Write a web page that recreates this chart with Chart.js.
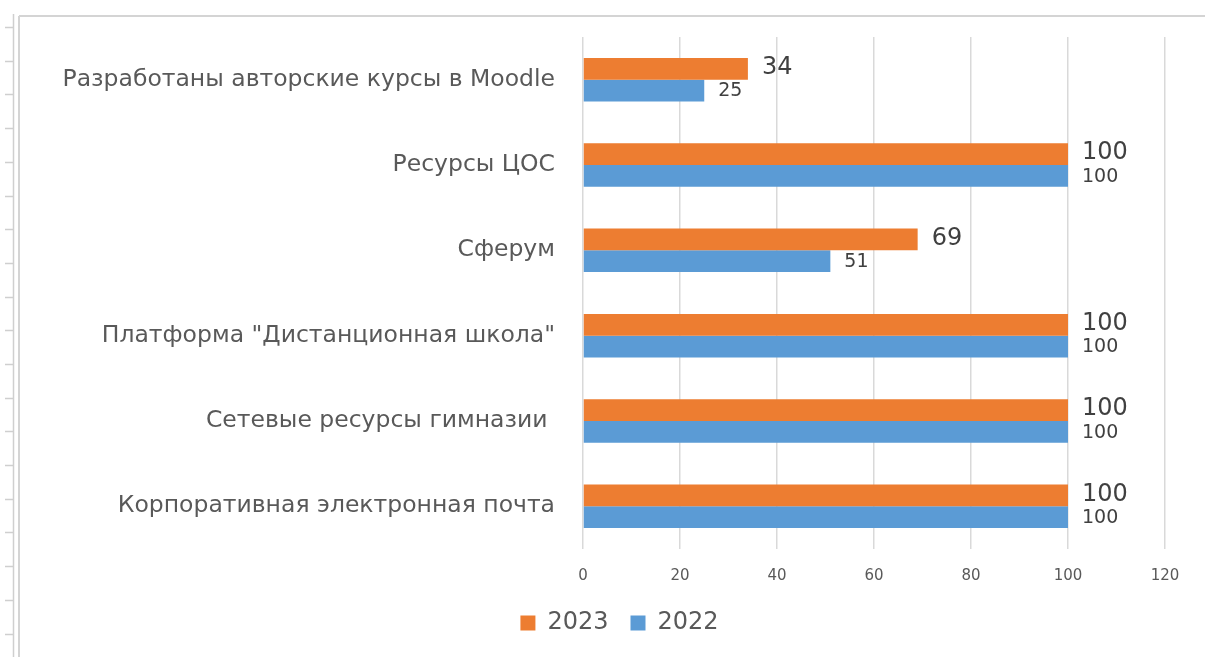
<!DOCTYPE html>
<html>
<head>
<meta charset="utf-8">
<script src="https://cdn.jsdelivr.net/npm/chart.js@4/dist/chart.umd.min.js"></script>
<style>
  html, body { margin: 0; padding: 0; background: #ffffff; }
  #wrap { width: 1205px; height: 657px; position: relative; }
</style>
</head>
<body>
<div id="wrap"><canvas id="c" width="1205" height="657"></canvas></div>
<script>
const categories = [
  'Разработаны авторские курсы в Moodle',
  'Ресурсы ЦОС',
  'Сферум',
  'Платформа "Дистанционная школа"',
  'Сетевые ресурсы гимназии ',
  'Корпоративная электронная почта'
];
const series2023 = [34, 100, 69, 100, 100, 100];
const series2022 = [25, 100, 51, 100, 100, 100];
const seriesNames = ['2023', '2022'];
const xTicks = [0, 20, 40, 60, 80, 100, 120];

const FONT = '"DejaVu Sans", "Noto Sans", sans-serif';

const frame = {
  id: 'frame',
  afterLayout(chart) {
    if (chart.legend) {
      chart.legend.left += 27;
      chart.legend.right += 27;
    }
  },
  beforeDraw(chart) {
    const ctx = chart.ctx;
    ctx.save();
    ctx.fillStyle = '#ffffff';
    ctx.fillRect(0, 0, chart.width, chart.height);
    ctx.strokeStyle = '#d4d4d4';
    ctx.lineWidth = 2;
    ctx.beginPath();
    ctx.moveTo(19, 16); ctx.lineTo(19, 657);
    ctx.moveTo(19, 16); ctx.lineTo(1205, 16);
    ctx.stroke();
    ctx.strokeStyle = '#cfcfcf';
    ctx.lineWidth = 1.5;
    ctx.beginPath();
    ctx.moveTo(13.5, 14); ctx.lineTo(13.5, 657);
    for (let y = 27; y < 657; y += 33.7) {
      ctx.moveTo(5, Math.round(y) + 0.5); ctx.lineTo(13, Math.round(y) + 0.5);
    }
    ctx.stroke();
    ctx.restore();
  },
  afterDatasetsDraw(chart) {
    const ctx = chart.ctx;
    ctx.save();
    ctx.fillStyle = '#404040';
    ctx.textAlign = 'left';
    ctx.textBaseline = 'middle';
    chart.data.datasets.forEach((ds, di) => {
      const meta = chart.getDatasetMeta(di);
      ctx.font = (di === 0 ? '24px ' : '19px ') + FONT;
      meta.data.forEach((bar, i) => {
        ctx.fillText(String(ds.data[i]), bar.x + 14, bar.y + (di === 0 ? -1 : 1));
      });
    });
    ctx.restore();
  }
};

new Chart(document.getElementById('c'), {
  type: 'bar',
  data: {
    labels: categories,
    datasets: [
      { label: seriesNames[0], data: series2023, backgroundColor: '#ED7D31', categoryPercentage: 0.51, barPercentage: 1.0 },
      { label: seriesNames[1], data: series2022, backgroundColor: '#5B9BD5', categoryPercentage: 0.51, barPercentage: 1.0 }
    ]
  },
  options: {
    indexAxis: 'y',
    responsive: false,
    animation: false,
    devicePixelRatio: 1,
    layout: { padding: { left: 20, right: 40, top: 37, bottom: 12 } },
    scales: {
      x: {
        min: 0, max: 120,
        afterBuildTicks(scale) { scale.ticks = xTicks.map(v => ({ value: v })); },
        afterFit(scale) { scale.height = 40; },
        grid: { color: '#d9d9d9', lineWidth: 1.5, drawTicks: false },
        border: { display: false },
        ticks: { color: '#595959', font: { family: FONT, size: 15 }, padding: 18 }
      },
      y: {
        afterFit(scale) { scale.width = 563; scale.paddingTop = 0; scale.paddingBottom = 0; },
        grid: { display: false, drawTicks: false },
        border: { display: false },
        ticks: { color: '#595959', font: { family: FONT, size: 23.5 }, padding: 28 }
      }
    },
    plugins: {
      legend: {
        position: 'bottom',
        labels: {
          color: '#595959',
          font: { family: FONT, size: 24 },
          boxWidth: 15, boxHeight: 15,
          padding: 22
        }
      },
      tooltip: { enabled: false }
    }
  },
  plugins: [frame]
});
</script>
</body>
</html>
